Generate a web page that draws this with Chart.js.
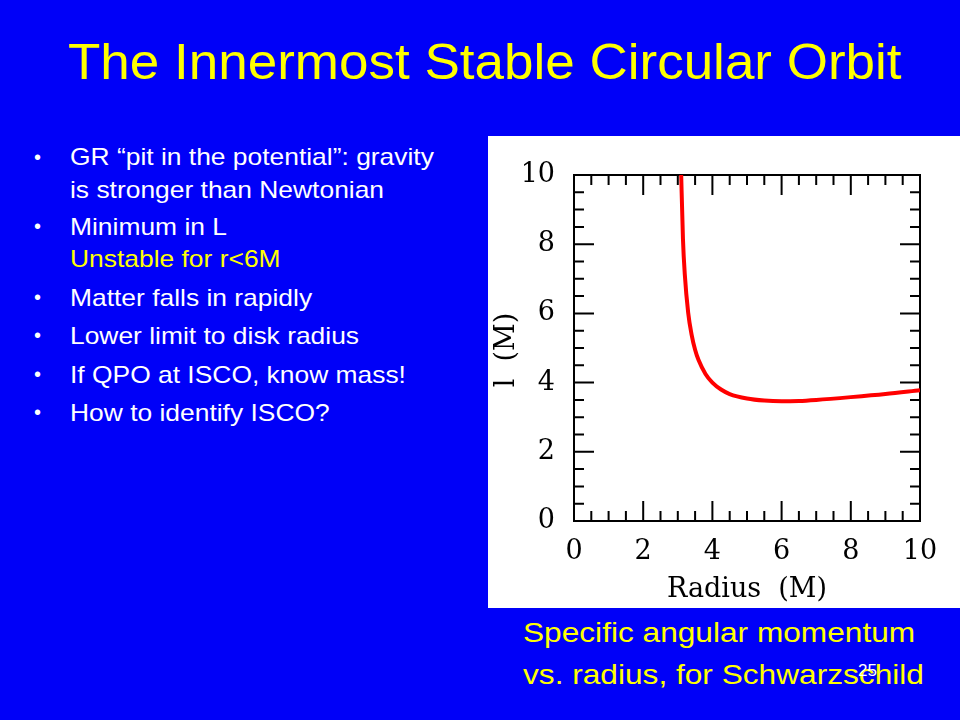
<!DOCTYPE html>
<html>
<head>
<meta charset="utf-8">
<script src="https://cdn.jsdelivr.net/npm/chart.js@4"></script>
<style>
  html, body { margin: 0; padding: 0; }
  body { width: 960px; height: 720px; background: #0000f8; position: relative; overflow: hidden;
         font-family: "Liberation Sans", Arial, sans-serif; }
  .line { position: absolute; white-space: nowrap; transform-origin: left center; line-height: 1; }
  .title { color: #ffff00; font-size: 50px; left: 68px; top: 37px; transform: scaleX(1.06); }
  .bul { color: #fff; font-size: 24px; transform: scaleX(1.1); }
  .dot { position: absolute; color: #fff; font-size: 20px; left: 34px; }
  .yel { color: #ffff00; }
  .cap { color: #ffff00; font-size: 28px; left: 523px; transform: scaleX(1.13); }
  .num { color: #fff; font-size: 17px; left: 858px; top: 662px; }
  #panel { position: absolute; left: 488px; top: 136px; width: 472px; height: 472px; background: #fff; }
</style>
</head>
<body>
<div class="line title">The Innermost Stable Circular Orbit</div>

<div class="dot" style="top:146px">•</div>
<div class="line bul" style="left:70px; top:145px">GR “pit in the potential”: gravity</div>
<div class="line bul" style="left:70px; top:178px">is stronger than Newtonian</div>
<div class="dot" style="top:215px">•</div>
<div class="line bul" style="left:70px; top:215px">Minimum in L</div>
<div class="line bul yel" style="left:70px; top:247px">Unstable for r&lt;6M</div>
<div class="dot" style="top:286px">•</div>
<div class="line bul" style="left:70px; top:286px">Matter falls in rapidly</div>
<div class="dot" style="top:324px">•</div>
<div class="line bul" style="left:70px; top:324px">Lower limit to disk radius</div>
<div class="dot" style="top:363px">•</div>
<div class="line bul" style="left:70px; top:363px">If QPO at ISCO, know mass!</div>
<div class="dot" style="top:401px">•</div>
<div class="line bul" style="left:70px; top:401px">How to identify ISCO?</div>

<div id="panel"><canvas id="orbit-chart"></canvas></div>

<div class="line cap" style="top:619px">Specific angular momentum</div>
<div class="line cap" style="top:661px">vs. radius, for Schwarzschild</div>
<div class="line num">25</div>

<script>
// values: radius (M) vs specific angular momentum l (M)
const radius = [3.09, 3.15, 3.2, 3.3, 3.4, 3.5, 3.6, 3.8, 4.0, 4.25, 4.5, 5.0, 5.5, 6.0, 6.5, 7.0, 8.0, 9.0, 10.0];
const angMomentum = [10.3, 8.13, 7.16, 6.02, 5.38, 4.95, 4.65, 4.25, 4.0, 3.8, 3.67, 3.54, 3.48, 3.46, 3.47, 3.5, 3.58, 3.67, 3.78];

const majorTicks = [0, 2, 4, 6, 8, 10];
const minorTicks = [0.5, 1, 1.5, 2.5, 3, 3.5, 4.5, 5, 5.5, 6.5, 7, 7.5, 8.5, 9, 9.5];
const xTitle = "Radius  (M)";
const yTitle = "l  (M)";

const serif = "'DejaVu Serif', 'Liberation Serif', serif";

// frame with inward ticks on all four sides, plus the axis titles
const frameTicks = {
  id: "frameTicks",
  beforeDatasetsDraw(chart) {
    const { ctx, chartArea: a, scales } = chart;
    const x = scales.x;
    const y = scales.y;
    ctx.save();
    ctx.strokeStyle = "#000";
    ctx.lineWidth = 2;
    ctx.strokeRect(a.left, a.top, a.width, a.height);
    ctx.beginPath();
    const tick = (v, len) => {
      const px = x.getPixelForValue(v);
      ctx.moveTo(px, a.bottom);
      ctx.lineTo(px, a.bottom - len);
      ctx.moveTo(px, a.top);
      ctx.lineTo(px, a.top + len);
      const py = y.getPixelForValue(v);
      ctx.moveTo(a.left, py);
      ctx.lineTo(a.left + len, py);
      ctx.moveTo(a.right, py);
      ctx.lineTo(a.right - len, py);
    };
    majorTicks.forEach((v) => tick(v, 20));
    minorTicks.forEach((v) => tick(v, 10));
    ctx.stroke();

    ctx.fillStyle = "#000";
    ctx.font = "27px " + serif;
    ctx.textAlign = "center";
    ctx.textBaseline = "middle";
    ctx.fillText(xTitle, (a.left + a.right) / 2, 454);
    ctx.translate(19, (a.top + a.bottom) / 2 + 2);
    ctx.rotate(-Math.PI / 2);
    ctx.fillText(yTitle, 0, 0);
    ctx.restore();
  },
};

const ctxOrbit = document.getElementById("orbit-chart").getContext("2d");

new Chart(ctxOrbit, {
  type: "line",
  data: {
    datasets: [
      {
        data: radius.map((r, i) => ({ x: r, y: angMomentum[i] })),
        borderColor: "#ff0000",
        borderWidth: 4,
        pointRadius: 0,
        cubicInterpolationMode: "monotone",
        fill: false,
      },
    ],
  },
  options: {
    responsive: true,
    maintainAspectRatio: false,
    animation: false,
    layout: { padding: { top: 39, right: 40, left: 0, bottom: 0 } },
    plugins: {
      legend: { display: false },
      tooltip: { enabled: false },
    },
    scales: {
      x: {
        type: "linear",
        min: 0,
        max: 10,
        afterFit: (scale) => { scale.height = 87; },
        grid: { display: false, drawTicks: false },
        border: { display: false },
        ticks: {
          stepSize: 2,
          padding: 15,
          color: "#000",
          font: { family: serif, size: 27 },
          maxRotation: 0,
        },
      },
      y: {
        type: "linear",
        min: 0,
        max: 10,
        afterFit: (scale) => { scale.width = 86; },
        grid: { display: false, drawTicks: false },
        border: { display: false },
        ticks: {
          stepSize: 2,
          padding: 19,
          color: "#000",
          font: { family: serif, size: 27 },
        },
      },
    },
  },
  plugins: [frameTicks],
});
</script>
</body>
</html>
